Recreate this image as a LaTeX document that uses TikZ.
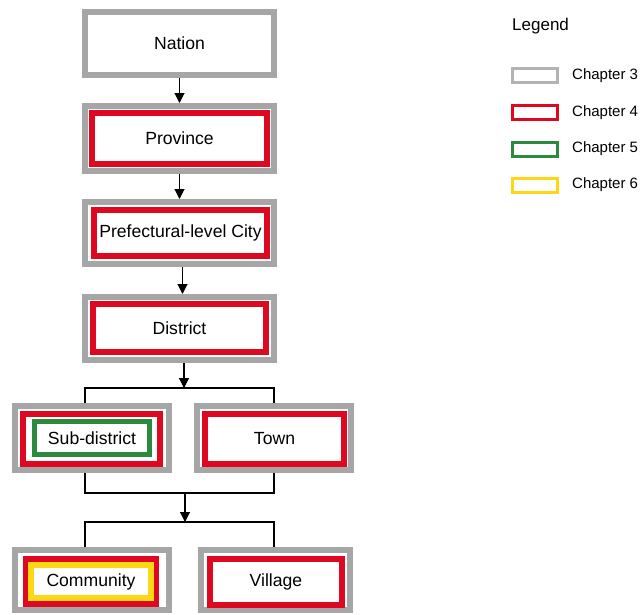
\documentclass[tikz,border=0pt]{standalone}
\usepackage{fontspec}
\setmainfont{Liberation Sans}
\usetikzlibrary{arrows.meta}
\definecolor{ch3}{RGB}{166,166,166}
\definecolor{ch4}{RGB}{222,8,32}
\definecolor{ch5}{RGB}{44,138,62}
\definecolor{ch6}{RGB}{250,216,20}
\tikzset{
  boxfont/.style={font=\fontsize{17.6}{21}\selectfont},
  graybox/.style={draw=ch3, line width=6pt, fill=white, inner sep=0pt},
  redbox/.style={draw=ch4, line width=6pt, inner sep=0pt, boxfont},
  greenbox/.style={draw=ch5, line width=5pt, inner sep=0pt, boxfont},
  yellowbox/.style={draw=ch6, line width=6pt, inner sep=0pt, boxfont},
  plainlabel/.style={inner sep=0pt, boxfont},
  legbox/.style={line width=3pt, minimum width=45pt, minimum height=14pt, inner sep=0pt},
  legtext/.style={anchor=west, inner sep=0pt, font=\fontsize{15}{18}\selectfont},
  link/.style={line width=1.1pt, black},
  arrowlink/.style={link, -{Triangle[length=10pt,width=10pt]}}
}
\begin{document}
\begin{tikzpicture}[x=1pt,y=-1pt]
\useasboundingbox (0,0) rectangle (643,614);

% hierarchy boxes
\node[graybox, minimum width=189pt, minimum height=63pt] (nation) at (179.5,43.5) {};
\node[plainlabel] (nationlbl) at (nation) {Nation};

\node[graybox, minimum width=189pt, minimum height=65pt] (province) at (179.5,138.5) {};
\node[redbox, minimum width=175pt, minimum height=51pt] (provincein) at (179.5,138.5) {Province};

\node[graybox, minimum width=189pt, minimum height=62pt] (city) at (179.5,233) {};
\node[redbox, minimum width=173pt, minimum height=46pt] (cityin) at (180.5,233) {Prefectural-level City};

\node[graybox, minimum width=189pt, minimum height=63pt] (district) at (179.5,328.5) {};
\node[redbox, minimum width=173pt, minimum height=48pt] (districtin) at (179.5,328) {District};

\node[graybox, minimum width=154pt, minimum height=64pt] (subdistrict) at (92,438) {};
\node[redbox, minimum width=137pt, minimum height=50pt] (subdistrictred) at (91.5,439) {};
\node[greenbox, minimum width=115pt, minimum height=33pt] (subdistrictin) at (92,438) {Sub-district};

\node[graybox, minimum width=154pt, minimum height=64pt] (town) at (274,438) {};
\node[redbox, minimum width=139pt, minimum height=50pt] (townin) at (274.5,439) {Town};

\node[graybox, minimum width=154pt, minimum height=60pt] (community) at (92,580) {};
\node[redbox, minimum width=130pt, minimum height=45pt] (communityred) at (91,581.5) {};
\node[yellowbox, minimum width=120pt, minimum height=33pt] (communityin) at (91,581.5) {Community};

\node[graybox, minimum width=149pt, minimum height=60pt] (village) at (275.5,580) {};
\node[redbox, minimum width=132pt, minimum height=46pt] (villagein) at (276,582) {Village};

% junction points of the branching connectors
\coordinate (splitA) at (184,388);
\coordinate (splitAl) at (85,388);
\coordinate (splitAr) at (274,388);
\coordinate (mergeB) at (185,493);
\coordinate (mergeBl) at (85,493);
\coordinate (mergeBr) at (274,493);
\coordinate (splitC) at (185,522);
\coordinate (splitCl) at (85,522);
\coordinate (splitCr) at (274,522);

% connectors
\draw[arrowlink] (nation.south) -- (province.north);
\draw[arrowlink] (province.south) -- (city.north);
\draw[arrowlink] ([xshift=3pt]city.south) -- ([xshift=3pt]district.north);
\draw[arrowlink] (district.south -| splitA) -- (splitA);
\draw[link] (subdistrict.north -| splitAl) -- (splitAl) -- (splitAr) -- (town.north -| splitAr);
\draw[link] (subdistrict.south -| mergeBl) -- (mergeBl) -- (mergeBr) -- (town.south -| mergeBr);
\draw[arrowlink] (mergeB) -- (splitC);
\draw[link] (community.north -| splitCl) -- (splitCl) -- (splitCr) -- (village.north -| splitCr);

% legend
\node[anchor=west, inner sep=0pt, font=\fontsize{17}{20}\selectfont] (legendtitle) at (512,26) {Legend};
\node[legbox, draw=ch3!85] (leg3) at (535,75.5) {};
\node[legtext] (leg3t) at (572,75.5) {Chapter 3};
\node[legbox, draw=ch4] (leg4) at (535,112.5) {};
\node[legtext] (leg4t) at (572,112.5) {Chapter 4};
\node[legbox, draw=ch5] (leg5) at (535,149) {};
\node[legtext] (leg5t) at (572,149) {Chapter 5};
\node[legbox, draw=ch6] (leg6) at (535,185) {};
\node[legtext] (leg6t) at (572,185) {Chapter 6};
\end{tikzpicture}
\end{document}
